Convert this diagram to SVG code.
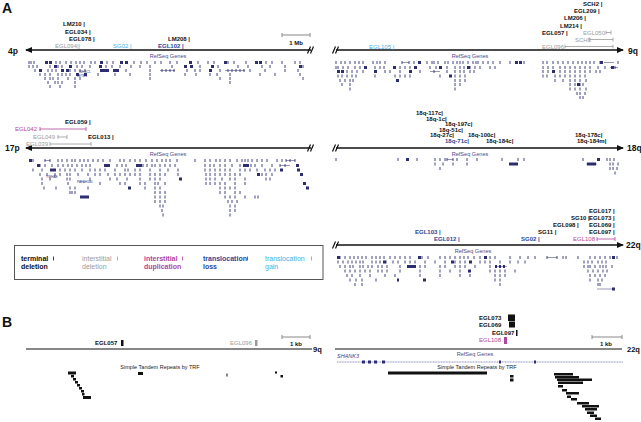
<svg xmlns="http://www.w3.org/2000/svg" width="641" height="422" viewBox="0 0 641 422">
<defs>
<style>
text{font-family:"Liberation Sans",Arial,sans-serif}
.pl{font-size:14px;font-weight:bold;fill:#111}
.lb{font-size:6px;font-weight:bold;fill:#111}
.g{fill:#9a9a9a;font-weight:normal}
.m{fill:#b0479c;font-weight:normal}
.db{fill:#2e4596}
.lt{fill:#3fb0e3;font-weight:normal}
.chr{font-size:8.5px;font-weight:bold;fill:#111}
.rs{font-size:5.6px;fill:#4a4a8a}
.tiny{font-size:3.2px;fill:#2d2d72}
.lg{font-size:7px;font-weight:bold;fill:#111}
.axis{stroke:#111;stroke-width:1.6;fill:none}
.brk{stroke:#111;stroke-width:1.2;fill:none}
.sb{stroke:#888;stroke-width:1;fill:none}
.iv{stroke-width:0.8;fill:none}
.tk{stroke:#2d2d72;stroke-width:0.9;fill:none}
.bk{stroke:#2d2d72;stroke-width:3;fill:none}
.ln{stroke:#2d2d72;stroke-width:0.5;fill:none}
.thin{stroke:#111;stroke-width:1.2;fill:none}
.rp{fill:#111}
</style>
<marker id="ah" markerWidth="7" markerHeight="6" refX="6" refY="3" orient="auto" markerUnits="userSpaceOnUse"><path d="M0,0L7,3L0,6Z" fill="#111"/></marker>
</defs>
<rect width="641" height="422" fill="#fff"/>
<text x="2" y="13" class="pl">A</text>
<text x="2" y="327" class="pl">B</text>

<g id="connectors">
<path class="axis" d="M311,50H26" marker-end="url(#ah)"/>
<path class="axis" d="M336,50H623" marker-end="url(#ah)"/>
<path class="axis" d="M311,148H26" marker-end="url(#ah)"/>
<path class="axis" d="M336,148H623" marker-end="url(#ah)"/>
<path class="axis" d="M336,245H623" marker-end="url(#ah)"/>
<path class="brk" d="M307.5,53.5L310.5,46.5M310.5,53.5L313.5,46.5M332.5,53.5L335.5,46.5M335.5,53.5L338.5,46.5"/>
<path class="brk" d="M307.5,151.5L310.5,144.5M310.5,151.5L313.5,144.5M332.5,151.5L335.5,144.5M335.5,151.5L338.5,144.5"/>
<path class="brk" d="M332.5,248.5L335.5,241.5M335.5,248.5L338.5,241.5"/>
<path class="thin" d="M26,349H312M335,349H622"/>
</g>

<g id="chr4p">
<text x="8" y="54" class="chr">4p</text>
<path class="sb" d="M282,35H310M282,33V37M310,33V37"/>
<text x="296" y="45" class="lb" text-anchor="middle">1 Mb</text>
<text x="63" y="26" class="lb">LM210 |</text>
<text x="65" y="33.5" class="lb">EGL034 |</text>
<text x="69" y="41" class="lb">EGL078 |</text>
<text x="55" y="48" class="lb g">EGL094||</text>
<text x="113" y="48" class="lb lt">SG02 |</text>
<text x="158" y="48" class="lb db">EGL102 |</text>
<text x="168" y="41" class="lb">LM208 |</text>
<text x="168" y="58" class="rs" text-anchor="middle">RefSeq Genes</text>
<path class="tk" d="M29 61v3M31 61v3M34 61v3M56 61v3M60 61v3M66 61v3M71 61v3M76 61v3M80 61v3M84 61v3M91 61v3M95 61v3M107 61v3M113 61v3M134 61v3M141 61v3M147 61v3M155 61v3M161 61v3M170 61v3M177 61v3M198 61v3M208 61v3M214 61v3M228 61v3M234 61v3M246 61v3M266 61v3M272 61v3M282 61v3M295 61v3M300 61v3
M29 65v3M33 65v3M37 65v3M50 65v3M58 65v3M62 65v3M77 65v3M82 65v3M90 65v3M106 65v3M112 65v3M120 65v3M131 65v3M140 65v3M150 65v3M172 65v3M200 65v3M218 65v3M238 65v3M248 65v3M262 65v3M270 65v3M285 65v3M303 65v3
M35 69v3M48 69v3M52 69v3M56 69v3M70 69v3M75 69v3M80 69v3M85 69v3M126 69v3M150 69v3M162 69v3M166 69v3M170 69v3M174 69v3M187 69v3M195 69v3M200 69v3M220 69v3M228 69v3M232 69v3M236 69v3M240 69v3M244 69v3M250 69v3M265 69v3M285 69v3M298 69v3
M40 73v3M45 73v3M50 73v3M58 73v3M62 73v3M66 73v3M70 73v3M98 73v3M115 73v3M130 73v3M150 73v3M185 73v3M196 73v3M210 73v3M217 73v3M230 73v3M260 73v3M275 73v3M300 73v3
M45 77v3M50 77v3M53 77v3M58 77v3M68 77v3M75 77v3M80 77v3M150 77v3M220 77v3M230 77v3M303 77v3
M48 81v3M55 81v3M58 81v3M62 81v3M75 81v3M230 81v3M50 85v3M60 85v3M75 85v3"/>
<path class="bk" d="M45 62.5h3M49 62.5h3M100 62.5h3M120 62.5h3M125 62.5h3M189 62.5h3M224 62.5h3M255 62.5h3M259 62.5h3
M54 66.5h3M69 66.5h3M99 66.5h3M184 66.5h3M190 66.5h3M211 66.5h3M299 66.5h3
M39 70.5h3M61 70.5h3M66 70.5h3M100 70.5h3M103 70.5h3M106 70.5h3M113 70.5h3M116 70.5h3M209 70.5h3M76 74.5h3M84 74.5h3"/>
<path class="ln" d="M160 70.5H175M225 70.5H245"/>
<text x="79" y="72.5" class="tiny">WHSC1</text>
<text x="77" y="76.5" class="tiny">LETM1</text>
</g>

<g id="chr9q">
<text x="628" y="53.5" class="chr">9q</text>
<text x="583" y="5.5" class="lb">SCH2 |</text>
<text x="574" y="13" class="lb">EGL209 |</text>
<text x="564" y="20" class="lb">LM206 |</text>
<text x="560" y="27.5" class="lb">LM214 |</text>
<text x="542" y="34.5" class="lb">EGL057 |</text>
<text x="583" y="34.5" class="lb g">EGL050</text>
<path class="iv" stroke="#9a9a9a" d="M606,32.5H611M606,30.5V34.5M611,30.5V34.5"/>
<text x="575" y="41.5" class="lb g">SCH3</text>
<path class="iv" stroke="#9a9a9a" d="M589,39.5H613M589,37.5V41.5M613,37.5V41.5"/>
<text x="542" y="48.5" class="lb g">EGL096</text>
<path class="iv" stroke="#9a9a9a" d="M565,46.5H613M565,44.5V48.5M613,44.5V48.5"/>
<text x="369" y="48.5" class="lb lt">EGL105 |</text>
<text x="470" y="58" class="rs" text-anchor="middle">RefSeq Genes</text>
<path class="tk" d="M336 61v3M341 61v3M345 61v3M350 61v3M355 61v3M359 61v3M363 61v3M373 61v3M377 61v3M380 61v3M385 61v3M402 61v3M409 61v3M414 61v3M427 61v3M432 61v3M434 61v3M438 61v3M445 61v3M448 61v3M453 61v3M457 61v3M460 61v3M463 61v3M468 61v3M473 61v3M476 61v3M478 61v3M483 61v3M488 61v3M493 61v3M500 61v3M510 61v3M524 61v3M543 61v3M547 61v3M553 61v3M558 61v3M563 61v3M568 61v3M573 61v3M578 61v3M582 61v3M586 61v3M590 61v3M594 61v3M600 61v3M618 61v3
M336 66v3M338 66v3M343 66v3M348 66v3M355 66v3M360 66v3M375 66v3M380 66v3M384 66v3M400 66v3M405 66v3M410 66v3M430 66v3M436 66v3M447 66v3M455 66v3M460 66v3M464 66v3M470 66v3M475 66v3M480 66v3M490 66v3M495 66v3M543 66v3M548 66v3M553 66v3M560 66v3M565 66v3M570 66v3M575 66v3M580 66v3M585 66v3M590 66v3M598 66v3M605 66v3M615 66v3
M347 70v3M352 70v3M357 70v3M363 70v3M385 70v3M390 70v3M400 70v3M420 70v3M434 70v3M447 70v3M455 70v3M460 70v3M464 70v3M470 70v3M474 70v3M543 70v3M548 70v3M560 70v3M565 70v3M570 70v3M575 70v3M580 70v3M585 70v3M590 70v3M596 70v3M600 70v3
M338 74.5v3M342 74.5v3M347 74.5v3M352 74.5v3M356 74.5v3M375 74.5v3M395 74.5v3M400 74.5v3M405 74.5v3M410 74.5v3M440 74.5v3M455 74.5v3M460 74.5v3M465 74.5v3M543 74.5v3M547 74.5v3M555 74.5v3M560 74.5v3M565 74.5v3M570 74.5v3M575 74.5v3M580 74.5v3M585 74.5v3
M340 79v3M345 79v3M350 79v3M353 79v3M455 79v3M460 79v3M465 79v3M555 79v3M563 79v3M570 79v3M575 79v3M580 79v3M586 79v3
M342 83v3M350 83v3M455 83v3M460 83v3M570 83v3M575 83v3M580 83v3M583 83v3
M350 87.5v3M455 87.5v3M570 87.5v3M575 87.5v3M580 87.5v3M586 87.5v3M577 92v3M580 92v3M585 92v3M580 96v3M583 96v3"/>
<path class="bk" d="M418 62.5h3M515 62.5h3M519 62.5h3M364 67.5h3M393 67.5h3M414 67.5h3M439 67.5h3M467 67.5h3M611 67.5h3M337 71.5h3M341 71.5h3M374 71.5h3M409 71.5h3M552 71.5h3M449 76h3M396 80.5h3M577 84.5h3M600 62.5h3"/>
<path class="ln" d="M402 62.5H409M430 71.5H440M604 62.5H614M610 67.5H618"/>
</g>

<g id="chr17p">
<text x="5" y="151" class="chr">17p</text>
<text x="65" y="124" class="lb">EGL059 |</text>
<text x="15" y="131" class="lb m">EGL042</text>
<path class="iv" stroke="#b0479c" d="M40,129H86M40,127V131M86,127V131"/>
<text x="33" y="139" class="lb g">EGL049</text>
<path class="iv" stroke="#9a9a9a" d="M58,137H67M58,135V139M67,135V139"/>
<text x="88" y="139" class="lb">EGL013 |</text>
<text x="26" y="146" class="lb g">EGL039</text>
<path class="iv" stroke="#9a9a9a" d="M50,144H91M50,142V146M91,142V146"/>
<text x="168" y="156" class="rs" text-anchor="middle">RefSeq Genes</text>
<path class="tk" d="M33 159v3M45 159v3M50 159v3M58 159v3M62 159v3M67 159v3M72 159v3M75 159v3M80 159v3M84 159v3M88 159v3M93 159v3M98 159v3M103 159v3M110 159v3M120 159v3M124 159v3M130 159v3M135 159v3M140 159v3M146 159v3M152 159v3M157 159v3M162 159v3M166 159v3M170 159v3M177 159v3M195 159v3M205 159v3M210 159v3M216 159v3M220 159v3M225 159v3M230 159v3M237 159v3M242 159v3M245 159v3M248 159v3M252 159v3M257 159v3M262 159v3M267 159v3M277 159v3M282 159v3M286 159v3M290 159v3M295 159v3
M40 164v3M45 164v3M52 164v3M58 164v3M63 164v3M68 164v3M72 164v3M77 164v3M82 164v3M86 164v3M90 164v3M117 164v3M122 164v3M126 164v3M143 164v3M147 164v3M152 164v3M155 164v3M160 164v3M165 164v3M170 164v3M175 164v3M205 164v3M210 164v3M214 164v3M220 164v3M225 164v3M232 164v3M240 164v3M251 164v3M255 164v3M262 164v3M272 164v3M280 164v3M285 164v3
M33 168.5v3M42 168.5v3M60 168.5v3M65 168.5v3M70 168.5v3M75 168.5v3M82 168.5v3M90 168.5v3M95 168.5v3M100 168.5v3M105 168.5v3M115 168.5v3M125 168.5v3M128 168.5v3M135 168.5v3M140 168.5v3M150 168.5v3M160 168.5v3M168 168.5v3M178 168.5v3M205 168.5v3M210 168.5v3M215 168.5v3M220 168.5v3M225 168.5v3M230 168.5v3M240 168.5v3M245 168.5v3M250 168.5v3M257 168.5v3M265 168.5v3M270 168.5v3M275 168.5v3
M40 173v3M47 173v3M55 173v3M60 173v3M67 173v3M70 173v3M78 173v3M88 173v3M95 173v3M100 173v3M108 173v3M115 173v3M120 173v3M125 173v3M130 173v3M135 173v3M140 173v3M150 173v3M155 173v3M160 173v3M165 173v3M178 173v3M206 173v3M210 173v3M215 173v3M220 173v3M225 173v3M230 173v3M235 173v3M240 173v3M262 173v3M266 173v3M272 173v3
M42 177.5v3M50 177.5v3M67 177.5v3M70 177.5v3M90 177.5v3M110 177.5v3M117 177.5v3M127 177.5v3M140 177.5v3M150 177.5v3M155 177.5v3M160 177.5v3M206 177.5v3M210 177.5v3M215 177.5v3M222 177.5v3M230 177.5v3M235 177.5v3M245 177.5v3M266 177.5v3M270 177.5v3
M42 182v3M68 182v3M100 182v3M120 182v3M125 182v3M140 182v3M145 182v3M155 182v3M158 182v3M165 182v3M206 182v3M210 182v3M215 182v3M220 182v3M225 182v3M235 182v3M245 182v3
M44 186.5v3M56 186.5v3M70 186.5v3M75 186.5v3M88 186.5v3M145 186.5v3M155 186.5v3M160 186.5v3M220 186.5v3M225 186.5v3M230 186.5v3M235 186.5v3
M70 191v3M72 191v3M75 191v3M155 191v3M160 191v3M165 191v3M220 191v3M225 191v3M235 191v3M240 191v3
M155 195.5v3M160 195.5v3M165 195.5v3M225 195.5v3M230 195.5v3M235 195.5v3M245 195.5v3M255 195.5v3M258 195.5v3
M155 200v3M160 200v3M165 200v3M228 200v3M232 200v3M237 200v3M160 204.5v3M163 204.5v3M230 204.5v3M235 204.5v3M162 209v3M230 209v3M235 209v3M163 213.5v3M230 213.5v3"/>
<path class="bk" d="M29 160.5h3M37 165.5h3M104 165.5h3M107 165.5h3M136 165.5h3M139 165.5h3M243 165.5h3M246 165.5h3M296 165.5h3M50 170h3M53 170h3M280 170h3M297 170h3M257 174.5h3M300 174.5h3M179 179h3M303 183.5h3M128 188h3M306 188h3M80 197h3M83 197h3M86 197h3"/>
<path class="ln" d="M45 160.5H50M286 160.5H295M280 165.5H290"/>
<text x="46" y="177.5" class="tiny">YWHAE</text>
<text x="77" y="182.5" class="tiny">PAFAH1B1</text>
</g>

<g id="chr18q">
<text x="627" y="151" class="chr">18q</text>
<text x="416" y="115" class="lb">18q-117c|</text>
<text x="426" y="120.5" class="lb">18q-1c|</text>
<text x="445" y="126" class="lb">18q-197c|</text>
<text x="439" y="131.5" class="lb">18q-51c|</text>
<text x="430" y="137" class="lb">18q-27c|</text>
<text x="445" y="142.5" class="lb db">18q-71c|</text>
<text x="468" y="137" class="lb">18q-100c|</text>
<text x="486" y="142.5" class="lb">18q-184c|</text>
<text x="575" y="137" class="lb">18q-178c|</text>
<text x="577" y="142.5" class="lb">18q-184m|</text>
<text x="470" y="156" class="rs" text-anchor="middle">RefSeq Genes</text>
<path class="tk" d="M336 158v3M398 158v3M417 158v3M435 158v3M440 158v3M445 158v3M447 158v3M453 158v3M457 158v3M467 158v3M477 158v3M502 158v3M518 158v3M524 158v3M583 158v3M607 158v3M610 158v3M614 158v3
M435 162.5v3M443 162.5v3M453 162.5v3M467 162.5v3M610 162.5v3M613 162.5v3M618 162.5v3M440 167v3M610 167v3M613 167v3M617 167v3M615 171.5v3"/>
<path class="bk" d="M406 159.5h3M597 159.5h3M509 164h3M512 164h3M515 164h3M587 164h3M590 164h3M593 164h3"/>
<path class="ln" d="M447 159.5H453M586 164H597"/>
</g>

<g id="chr22q">
<text x="626" y="248" class="chr">22q</text>
<text x="589" y="213" class="lb">EGL017 |</text>
<text x="571" y="220" class="lb">SG10 |</text>
<text x="589" y="220" class="lb">EGL073 |</text>
<text x="553" y="227" class="lb">EGL098 |</text>
<text x="589" y="227" class="lb">EGL069 |</text>
<text x="415" y="234" class="lb db">EGL103 |</text>
<text x="538" y="234" class="lb">SG11 |</text>
<text x="589" y="234" class="lb">EGL097 |</text>
<text x="434" y="241" class="lb db">EGL012 |</text>
<text x="521" y="241" class="lb db">SG02 |</text>
<text x="573" y="241" class="lb m">EGL108</text>
<path class="iv" stroke="#b0479c" d="M597,239H615M597,237V241M615,237V241"/>
<text x="473" y="253" class="rs" text-anchor="middle">RefSeq Genes</text>
<path class="tk" d="M340 256v3M345 256v3M350 256v3M354 256v3M358 256v3M362 256v3M366 256v3M372 256v3M376 256v3M380 256v3M384 256v3M390 256v3M395 256v3M400 256v3M405 256v3M410 256v3M422 256v3M428 256v3M440 256v3M445 256v3M450 256v3M455 256v3M460 256v3M464 256v3M468 256v3M474 256v3M480 256v3M490 256v3M495 256v3M510 256v3M520 256v3M528 256v3M535 256v3M547 256v3M557 256v3M563 256v3M566 256v3M578 256v3M590 256v3M595 256v3M600 256v3M605 256v3M610 256v3M617 256v3
M338 260.5v3M343 260.5v3M348 260.5v3M352 260.5v3M356 260.5v3M360 260.5v3M363 260.5v3M372 260.5v3M376 260.5v3M380 260.5v3M386 260.5v3M393 260.5v3M398 260.5v3M405 260.5v3M410 260.5v3M415 260.5v3M425 260.5v3M435 260.5v3M445 260.5v3M455 260.5v3M460 260.5v3M465 260.5v3M480 260.5v3M485 260.5v3M490 260.5v3M500 260.5v3M510 260.5v3M518 260.5v3M525 260.5v3M584 260.5v3M588 260.5v3M592 260.5v3M598 260.5v3M602 260.5v3M606 260.5v3
M340 265v3M345 265v3M350 265v3M353 265v3M360 265v3M363 265v3M368 265v3M372 265v3M378 265v3M382 265v3M387 265v3M400 265v3M420 265v3M425 265v3M440 265v3M445 265v3M455 265v3M460 265v3M465 265v3M475 265v3M490 265v3M584 265v3M588 265v3M590 265v3M595 265v3M600 265v3M603 265v3M606 265v3M612 265v3
M345 269.5v3M350 269.5v3M355 269.5v3M360 269.5v3M365 269.5v3M370 269.5v3M378 269.5v3M382 269.5v3M387 269.5v3M400 269.5v3M420 269.5v3M440 269.5v3M450 269.5v3M460 269.5v3M490 269.5v3M495 269.5v3M500 269.5v3M505 269.5v3M515 269.5v3M588 269.5v3M593 269.5v3M598 269.5v3M603 269.5v3M607 269.5v3
M347 274v3M352 274v3M360 274v3M370 274v3M385 274v3M395 274v3M420 274v3M440 274v3M460 274v3M470 274v3M495 274v3M500 274v3M505 274v3M590 274v3M595 274v3M600 274v3M605 274v3
M350 278.5v3M356 278.5v3M362 278.5v3M376 278.5v3M495 278.5v3M500 278.5v3M590 278.5v3M598 278.5v3M602 278.5v3M355 283v3M362 283v3M500 283v3M598 283v3M600 283v3"/>
<path class="bk" d="M337 257.5h3M418 257.5h3M484 257.5h3M612 257.5h3M383 262h3M451 262h3M469 262h3M407 266.5h3M410 266.5h3M413 266.5h3M495 266.5h2M499 266.5h2M503 266.5h2M468 271h3M423 280h3M397 280h2M612 289h3"/>
<path class="ln" d="M547 257.5H557M495 266.5H507M597 289H612"/>
</g>

<g id="legend">
<rect x="14.5" y="245.5" width="308.5" height="34" fill="none" stroke="#555" stroke-width="1"/>
<text x="21" y="260.5" class="lg">terminal</text><text x="21" y="268.5" class="lg">deletion</text>
<path d="M53.5,256.5v4" stroke="#111" stroke-width="0.8"/>
<text x="82" y="260.5" class="lg" fill="#9a9a9a" style="fill:#9a9a9a;font-weight:normal">interstitial</text><text x="82" y="268.5" class="lg" style="fill:#9a9a9a;font-weight:normal">deletion</text>
<path d="M117.5,256.5v4" stroke="#9a9a9a" stroke-width="0.8"/>
<text x="144" y="260.5" class="lg" style="fill:#b0479c">interstitial</text><text x="144" y="268.5" class="lg" style="fill:#b0479c">duplication</text>
<path d="M182.5,256.5v4" stroke="#b0479c" stroke-width="0.8"/>
<text x="203" y="260.5" class="lg" style="fill:#2e4596">translocation</text><text x="203" y="268.5" class="lg" style="fill:#2e4596">loss</text>
<path d="M247.5,256.5v4" stroke="#2e4596" stroke-width="0.8"/>
<text x="265" y="260.5" class="lg" style="fill:#3fb0e3;font-weight:normal">translocation</text><text x="265" y="268.5" class="lg" style="fill:#3fb0e3;font-weight:normal">gain</text>
<path d="M311.5,256.5v4" stroke="#3fb0e3" stroke-width="0.8"/>
</g>

<g id="panelB-9q">
<text x="313" y="352" class="chr" style="font-size:7.5px">9q</text>
<path class="sb" d="M282,337H310M282,335V339M310,335V339"/>
<text x="296" y="346" class="lb" text-anchor="middle">1 kb</text>
<text x="95" y="345" class="lb">EGL057</text>
<rect x="121" y="340" width="2.5" height="6" class="rp"/>
<text x="230" y="345" class="lb g">EGL096</text>
<rect x="255" y="340" width="2.5" height="6" fill="#9a9a9a"/>
<text x="160" y="369" style="font-size:5.5px;fill:#222" text-anchor="middle">Simple Tandem Repeats by TRF</text>
<rect x="68" y="371.5" width="8" height="3" class="rp"/>
<rect x="71" y="375" width="3" height="2.5" class="rp"/>
<rect x="73" y="378" width="3" height="2.5" class="rp"/>
<rect x="75" y="381" width="3" height="2.5" class="rp"/>
<rect x="77" y="384" width="3" height="2.5" class="rp"/>
<rect x="79" y="387" width="3" height="2.5" class="rp"/>
<rect x="81" y="390" width="3" height="2.5" class="rp"/>
<rect x="82" y="393" width="2.5" height="2.5" class="rp"/>
<rect x="83" y="396" width="8" height="3" class="rp"/>
<rect x="138" y="372" width="5" height="3" class="rp"/>
<rect x="226.5" y="373.5" width="1" height="3" class="rp"/>
<rect x="275" y="371.5" width="2" height="2" class="rp"/>
<rect x="280.5" y="375" width="2.5" height="2.5" class="rp"/>
</g>

<g id="panelB-22q">
<text x="627" y="352" class="chr" style="font-size:7.5px">22q</text>
<path class="sb" d="M592,337H622M592,335V339M622,335V339"/>
<text x="606" y="346" class="lb" text-anchor="middle">1 kb</text>
<text x="479" y="320" class="lb">EGL073</text>
<rect x="508" y="314.5" width="7" height="6.5" class="rp"/>
<text x="479" y="327" class="lb">EGL069</text>
<rect x="509" y="321.5" width="6" height="6" class="rp"/>
<text x="492" y="335" class="lb">EGL097</text>
<rect x="516" y="330" width="1.5" height="6" class="rp"/>
<text x="479" y="342" class="lb m">EGL108</text>
<rect x="504" y="337" width="3" height="7" fill="#b0479c"/>
<text x="337" y="358" style="font-size:5.5px;fill:#3a3a8a;font-style:italic">SHANK3</text>
<text x="475" y="356" class="rs" text-anchor="middle">RefSeq Genes</text>
<path d="M337,362H623" stroke="#6a6aa8" stroke-width="0.8" stroke-dasharray="1,0.6"/>
<path class="bk" d="M362 362h3M368 362h3M374 362h3M382 362h3M499 362h2M534 362h2"/>
<text x="477" y="369" style="font-size:5.5px;fill:#222" text-anchor="middle">Simple Tandem Repeats by TRF</text>
<rect x="388" y="371.5" width="99" height="3" class="rp"/>
<rect x="510" y="375" width="3.5" height="2.5" class="rp"/>
<rect x="510" y="378.5" width="3.5" height="3" class="rp"/>
<rect x="554" y="373" width="19" height="2.5" class="rp"/>
<rect x="555" y="376" width="24" height="2.5" class="rp"/>
<rect x="557" y="378.5" width="35" height="2.5" class="rp"/>
<rect x="558" y="381.5" width="25" height="2.5" class="rp"/>
<rect x="558" y="385" width="5" height="2.5" class="rp"/>
<rect x="562" y="389" width="5" height="2.5" class="rp"/>
<rect x="566" y="392" width="13" height="2.5" class="rp"/>
<rect x="567" y="395.5" width="4" height="2.5" class="rp"/>
<rect x="571" y="398" width="6" height="2.5" class="rp"/>
<rect x="577" y="402" width="12" height="2.5" class="rp"/>
<rect x="582" y="405" width="17" height="2.5" class="rp"/>
<rect x="585" y="408" width="12" height="2.5" class="rp"/>
<rect x="587" y="411.5" width="7" height="2.5" class="rp"/>
<rect x="590" y="414.5" width="7" height="2.5" class="rp"/>
<rect x="595" y="417.5" width="6" height="2.5" class="rp"/>
</g>
</svg>
